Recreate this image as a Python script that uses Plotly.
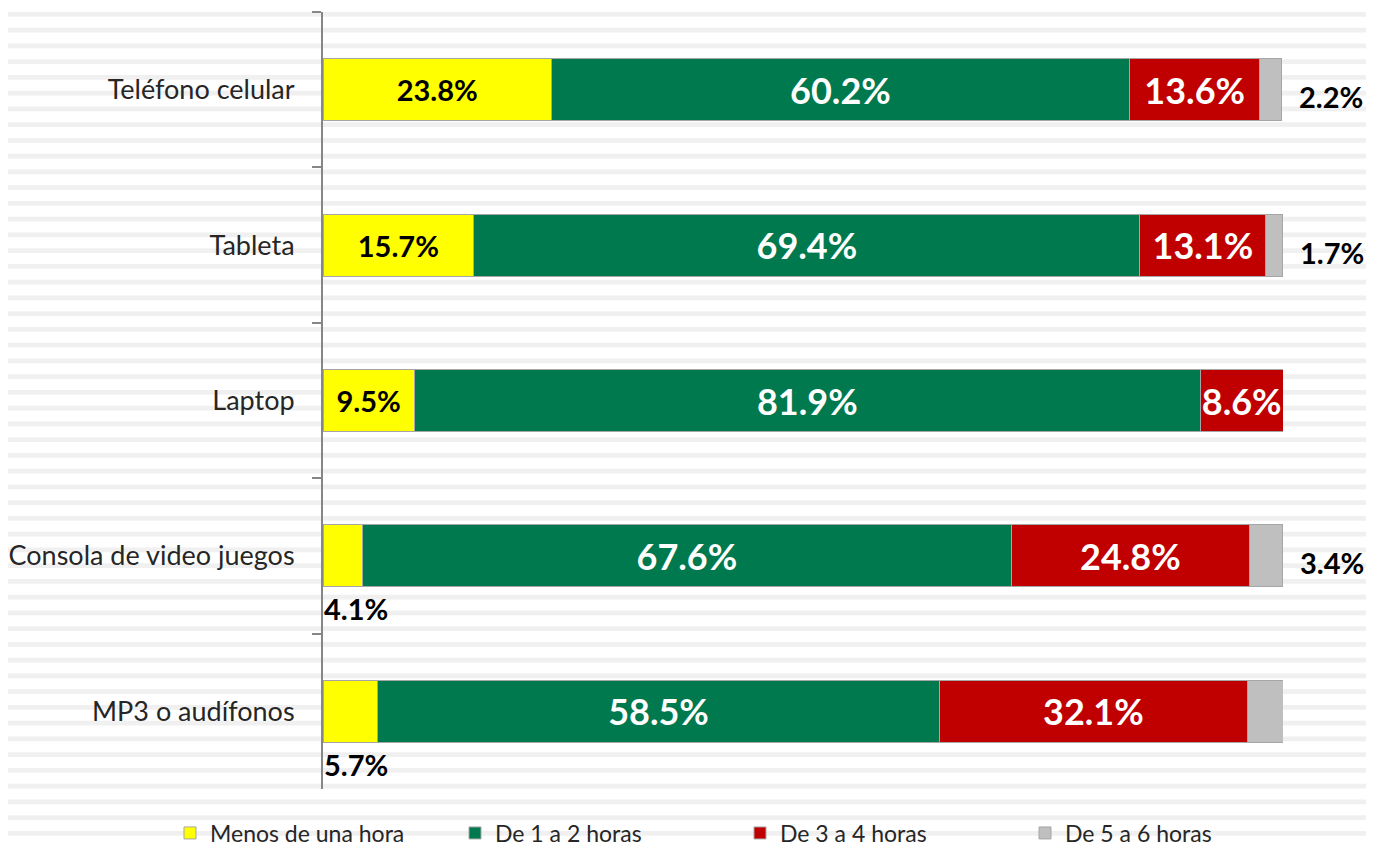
import plotly.graph_objects as go

categories = ["Teléfono celular", "Tableta", "Laptop", "Consola de video juegos", "MP3 o audífonos"]
series_names = ["Menos de una hora", "De 1 a 2 horas", "De 3 a 4 horas", "De 5 a 6 horas"]
menos_una = [23.8, 15.7, 9.5, 4.1, 5.7]
de_1_a_2 = [60.2, 69.4, 81.9, 67.6, 58.5]
de_3_a_4 = [13.6, 13.1, 8.6, 24.8, 32.1]
de_5_a_6 = [2.2, 1.7, None, 3.4, 3.8]

colors = ["#FFFF00", "#00794F", "#C00000", "#BFBFBF"]
FONT = "Lato, 'Open Sans', sans-serif"

# page body has an 8px margin; the figure is sized so that it fills the window
OFF = 8
W, H = 1374 - OFF, 846 - OFF
ML, MR, MT, MB = 323 - OFF, 91, 12 - OFF, 57
plot_w = W - ML - MR
plot_h = H - MT - MB

fig = go.Figure()

def fmt(v):
    return "" if v is None else f"{v:.1f}%"

yellow_text = [fmt(v) if v >= 8 else "" for v in menos_una]
fig.add_trace(go.Bar(
    y=categories, x=menos_una, name=series_names[0], orientation="h",
    marker=dict(color=colors[0], line=dict(color="#A6A6A6", width=1)),
    text=yellow_text, textposition="inside", insidetextanchor="middle",
    textangle=0, constraintext="none",
    textfont=dict(family=FONT, size=29, color="black", weight="bold"),
))
fig.add_trace(go.Bar(
    y=categories, x=de_1_a_2, name=series_names[1], orientation="h",
    marker=dict(color=colors[1], line=dict(color="#A6A6A6", width=1)),
    text=[fmt(v) for v in de_1_a_2], textposition="inside", insidetextanchor="middle",
    textangle=0, constraintext="none",
    textfont=dict(family=FONT, size=36, color="white", weight="bold"),
))
fig.add_trace(go.Bar(
    y=categories, x=de_3_a_4, name=series_names[2], orientation="h",
    marker=dict(color=colors[2], line=dict(color="#A6A6A6", width=1)),
    text=[fmt(v) for v in de_3_a_4], textposition="inside", insidetextanchor="middle",
    textangle=0, constraintext="none",
    textfont=dict(family=FONT, size=36, color="white", weight="bold"),
))
fig.add_trace(go.Bar(
    y=categories, x=de_5_a_6, name=series_names[3], orientation="h",
    marker=dict(color=colors[3], line=dict(color="#A6A6A6", width=1)),
))

annotations = []
for i, c in enumerate(categories):
    v = de_5_a_6[i]
    if v is None:
        continue
    total = menos_una[i] + de_1_a_2[i] + de_3_a_4[i] + v
    annotations.append(dict(
        x=total, y=c, xref="x", yref="y", text=fmt(v), showarrow=False,
        xanchor="left", xshift=16, yshift=-7,
        font=dict(family=FONT, size=29, color="black", weight="bold"),
    ))
for i, c in enumerate(categories):
    v = menos_una[i]
    if v >= 8:
        continue
    annotations.append(dict(
        x=0, y=c, xref="x", yref="y", text=fmt(v), showarrow=False,
        xanchor="left", yanchor="middle", xshift=-1, yshift=-53,
        font=dict(family=FONT, size=29, color="black", weight="bold"),
    ))

# striped background (decorative)
shapes = []
period = 15.75
k = -1
while True:
    top = (12.0 - OFF) + k * period
    if top > H:
        break
    bot = top + 4.8
    shapes.append(dict(
        type="rect", xref="paper", yref="paper",
        x0=-ML / plot_w, x1=(W - ML) / plot_w,
        y0=(H - MB - bot) / plot_h, y1=(H - MB - top) / plot_h,
        fillcolor="#F0F0F0", line=dict(width=0), layer="below",
    ))
    k += 1

fig.update_layout(
    width=W, height=H,
    barmode="stack", bargap=0.6,
    margin=dict(l=ML, r=MR, t=MT, b=MB, autoexpand=False),
    paper_bgcolor="white", plot_bgcolor="rgba(0,0,0,0)",
    font=dict(family=FONT, size=22, color="#262626"),
    xaxis=dict(range=[0, 100], visible=False, showgrid=False, zeroline=False),
    yaxis=dict(
        categoryorder="array", categoryarray=categories, autorange="reversed",
        showline=True, linecolor="#868686", linewidth=2,
        ticks="outside", tickson="boundaries", ticklen=9, tickcolor="#868686", tickwidth=2,
        ticklabelstandoff=21, showgrid=False, zeroline=False,
        tickfont=dict(family=FONT, size=27, color="#262626"),
    ),
    legend=dict(
        orientation="h", xref="paper", yref="paper",
        x=(162 - ML) / plot_w, xanchor="left",
        y=(H - MB - 825) / plot_h, yanchor="middle",
        font=dict(family=FONT, size=23, color="#262626"),
        bgcolor="rgba(0,0,0,0)", traceorder="normal",
        entrywidth=240, entrywidthmode="pixels", itemwidth=30,
    ),
    showlegend=True,
    annotations=annotations,
    shapes=shapes,
)

fig.write_html("out.html")
